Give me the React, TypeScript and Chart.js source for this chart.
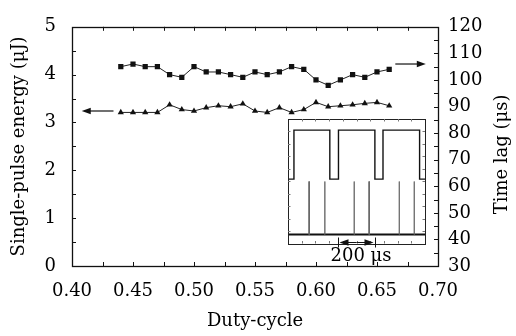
import { useEffect, useRef } from "react";
import { Chart, registerables } from "chart.js";

Chart.register(...registerables);

// ---------- main chart data ----------
const dutyCycle = [0.44, 0.45, 0.46, 0.47, 0.48, 0.49, 0.5, 0.51, 0.52, 0.53, 0.54, 0.55, 0.56, 0.57, 0.58, 0.59, 0.6, 0.61, 0.62, 0.63, 0.64, 0.65, 0.66];
const timeLag = [105, 106, 105, 105, 102, 101, 105, 103, 103, 102, 101, 103, 102, 103, 105, 104, 100, 98, 100, 102, 101, 103, 104];
const pulseEnergy = [3.21, 3.21, 3.21, 3.21, 3.37, 3.27, 3.24, 3.31, 3.35, 3.33, 3.39, 3.24, 3.21, 3.31, 3.21, 3.27, 3.42, 3.33, 3.35, 3.37, 3.4, 3.42, 3.35];

const xRange = [0.4, 0.7];
const xStep = 0.05;
const xMinorStep = 0.025;
const energyRange = [0, 5];
const energyStep = 1;
const energyMinorStep = 0.5;
const lagRange = [30, 120];
const lagStep = 10;
const lagMinorStep = 5;

const xTitle = "Duty-cycle";
const energyTitle = "Single-pulse energy (μJ)";
const lagTitle = "Time lag (μs)";

// arrows pointing to each series' axis (data coordinates)
const energyArrow = { y: 3.24, from: 0.434, to: 0.408 };
const lagArrow = { y: 106, from: 0.665, to: 0.69 };

// ---------- inset (oscilloscope trace) data ----------
const insetTimeRange = [0, 760]; // μs
const insetLevelRange = [0, 10];
const insetRiseTimes = [33, 280, 527];
const insetFallTimes = [232, 482, 730];
const insetSpikeTimes = [117, 204, 367, 450, 617, 700];
const insetHigh = 9.11;
const insetLow = 5.17;
const insetBase = 0.72;
const insetSpikeTop = 4.98;
const scaleBarStart = 280;
const scaleBarLength = 200;
const scaleBarLabel = "200 μs";

const FONT = "'DejaVu Serif', 'Liberation Serif', serif";
const INK = "#111";

function drawArrow(ctx: CanvasRenderingContext2D, x1: number, y1: number, x2: number, y2: number) {
  const ang = Math.atan2(y2 - y1, x2 - x1);
  const hl = 9;
  const hw = 3.2;
  ctx.beginPath();
  ctx.moveTo(x1, y1);
  ctx.lineTo(x2 - Math.cos(ang) * hl * 0.8, y2 - Math.sin(ang) * hl * 0.8);
  ctx.stroke();
  ctx.beginPath();
  ctx.moveTo(x2, y2);
  ctx.lineTo(x2 - Math.cos(ang) * hl - Math.sin(ang) * hw, y2 - Math.sin(ang) * hl + Math.cos(ang) * hw);
  ctx.lineTo(x2 - Math.cos(ang) * hl + Math.sin(ang) * hw, y2 - Math.sin(ang) * hl - Math.cos(ang) * hw);
  ctx.closePath();
  ctx.fill();
}

const mainDecor = {
  id: "mainDecor",
  afterDraw(chart: any) {
    const { ctx, chartArea: a, scales } = chart;
    const x = scales.x, y = scales.y, y1 = scales.y1;
    ctx.save();
    ctx.strokeStyle = INK;
    ctx.fillStyle = INK;
    ctx.lineWidth = 1.3;
    ctx.strokeRect(Math.round(a.left) + 0.5, Math.round(a.top) + 0.5, Math.round(a.right - a.left), Math.round(a.bottom - a.top));
    ctx.lineWidth = 1;
    const tl = 4;
    ctx.beginPath();
    const nx = Math.round((xRange[1] - xRange[0]) / xMinorStep);
    for (let i = 1; i < nx; i++) {
      const px = Math.round(x.getPixelForValue(xRange[0] + i * xMinorStep)) + 0.5;
      ctx.moveTo(px, a.bottom); ctx.lineTo(px, a.bottom - tl);
      ctx.moveTo(px, a.top); ctx.lineTo(px, a.top + tl);
    }
    const ny = Math.round((energyRange[1] - energyRange[0]) / energyMinorStep);
    for (let i = 1; i < ny; i++) {
      const py = Math.round(y.getPixelForValue(energyRange[0] + i * energyMinorStep)) + 0.5;
      ctx.moveTo(a.left, py); ctx.lineTo(a.left + tl, py);
    }
    const ny1 = Math.round((lagRange[1] - lagRange[0]) / lagMinorStep);
    for (let i = 1; i < ny1; i++) {
      const py = Math.round(y1.getPixelForValue(lagRange[0] + i * lagMinorStep)) + 0.5;
      ctx.moveTo(a.right, py); ctx.lineTo(a.right - tl, py);
    }
    ctx.stroke();

    ctx.lineWidth = 1.2;
    drawArrow(ctx, x.getPixelForValue(energyArrow.from), y.getPixelForValue(energyArrow.y), x.getPixelForValue(energyArrow.to), y.getPixelForValue(energyArrow.y));
    drawArrow(ctx, x.getPixelForValue(lagArrow.from), y1.getPixelForValue(lagArrow.y), x.getPixelForValue(lagArrow.to), y1.getPixelForValue(lagArrow.y));

    // right axis title, reading bottom-to-top
    ctx.font = `18px ${FONT}`;
    ctx.fillStyle = "#000";
    ctx.textAlign = "center";
    ctx.textBaseline = "middle";
    ctx.translate(y1.right - 14, (a.top + a.bottom) / 2 + 8);
    ctx.rotate(-Math.PI / 2);
    ctx.fillText(lagTitle, 0, 0);
    ctx.restore();
  },
};

const insetDecor = {
  id: "insetDecor",
  afterDraw(chart: any) {
    const { ctx, chartArea: a, scales } = chart;
    const x = scales.x;
    ctx.save();
    ctx.strokeStyle = "#222";
    ctx.fillStyle = "#222";
    ctx.lineWidth = 1;
    ctx.strokeRect(Math.round(a.left) + 0.5, Math.round(a.top) + 0.5, Math.round(a.right - a.left), Math.round(a.bottom - a.top));
    ctx.strokeStyle = "#777";
    ctx.beginPath();
    for (let i = 1; i < 10; i++) {
      const px = Math.round(a.left + ((a.right - a.left) * i) / 10) + 0.5;
      ctx.moveTo(px, a.bottom); ctx.lineTo(px, a.bottom - 2.5);
      ctx.moveTo(px, a.top); ctx.lineTo(px, a.top + 2.5);
      const py = Math.round(a.top + ((a.bottom - a.top) * i) / 10) + 0.5;
      ctx.moveTo(a.left, py); ctx.lineTo(a.left + 2.5, py);
      ctx.moveTo(a.right, py); ctx.lineTo(a.right - 2.5, py);
    }
    ctx.stroke();
    // scale bar
    ctx.strokeStyle = "#111";
    ctx.fillStyle = "#111";
    const bx1 = x.getPixelForValue(scaleBarStart);
    const bx2 = x.getPixelForValue(scaleBarStart + scaleBarLength);
    const by = Math.round(a.bottom) - 1.5;
    ctx.lineWidth = 1;
    ctx.beginPath();
    ctx.moveTo(Math.round(bx1) + 0.5, by - 5); ctx.lineTo(Math.round(bx1) + 0.5, by + 5);
    ctx.moveTo(Math.round(bx2) + 0.5, by - 5); ctx.lineTo(Math.round(bx2) + 0.5, by + 5);
    ctx.stroke();
    const mid = (bx1 + bx2) / 2;
    drawArrow(ctx, mid, by, bx1 + 1, by);
    drawArrow(ctx, mid, by, bx2 - 1, by);
    ctx.font = `18px ${FONT}`;
    ctx.fillStyle = "#000";
    ctx.textAlign = "left";
    ctx.textBaseline = "alphabetic";
    ctx.fillText(scaleBarLabel, bx1 - 8, a.bottom + 17);
    ctx.restore();
  },
};

export default function App() {
  const mainRef = useRef<HTMLCanvasElement>(null);
  const insetRef = useRef<HTMLCanvasElement>(null);

  useEffect(() => {
    const tickFont = { family: FONT, size: 18 };
    const noGrid = { display: false, drawTicks: false };
    const main = new Chart(mainRef.current!, {
      type: "line",
      data: {
        datasets: [
          {
            label: "Time lag",
            data: dutyCycle.map((d, i) => ({ x: d, y: timeLag[i] })),
            yAxisID: "y1",
            borderColor: "#222",
            backgroundColor: "#111",
            borderWidth: 1,
            pointStyle: "rect",
            pointRadius: 3.7,
            pointBorderWidth: 0,
            tension: 0,
          },
          {
            label: "Single-pulse energy",
            data: dutyCycle.map((d, i) => ({ x: d, y: pulseEnergy[i] })),
            yAxisID: "y",
            borderColor: "#222",
            backgroundColor: "#111",
            borderWidth: 1,
            pointStyle: "triangle",
            pointRadius: 3.6,
            pointBorderWidth: 0,
            tension: 0,
          },
        ],
      },
      options: {
        animation: false,
        responsive: false,
        events: [],
        layout: { padding: { top: 16, left: 0, right: 0, bottom: 0 } },
        plugins: { legend: { display: false }, tooltip: { enabled: false } },
        scales: {
          x: {
            type: "linear",
            min: xRange[0],
            max: xRange[1],
            grid: noGrid,
            border: { display: false },
            afterFit: (s: any) => { s.height = 70; },
            afterBuildTicks: (s: any) => {
              const t = [];
              for (let v = xRange[0]; v <= xRange[1] + 1e-9; v += xStep) t.push({ value: +v.toFixed(3) });
              s.ticks = t;
            },
            ticks: { font: tickFont, color: "#000", padding: 15, maxRotation: 0, autoSkip: false, callback: (v: any) => Number(v).toFixed(2) },
            title: { display: true, text: xTitle, font: tickFont, color: "#000", padding: { top: 0, bottom: 4 } },
          },
          y: {
            type: "linear",
            position: "left",
            min: energyRange[0],
            max: energyRange[1],
            grid: noGrid,
            border: { display: false },
            afterFit: (s: any) => { s.width = 72; },
            ticks: { stepSize: energyStep, font: tickFont, color: "#000", padding: 16 },
            title: { display: true, text: energyTitle, font: tickFont, color: "#000", padding: { top: 9, bottom: 0 } },
          },
          y1: {
            type: "linear",
            position: "right",
            min: lagRange[0],
            max: lagRange[1],
            grid: noGrid,
            border: { display: false },
            afterFit: (s: any) => { s.width = 78; },
            ticks: { stepSize: lagStep, font: tickFont, color: "#000", padding: 10 },
          },
        },
      },
      plugins: [mainDecor],
    } as any);

    const square: { x: number; y: number }[] = [{ x: insetTimeRange[0], y: insetLow }];
    insetRiseTimes.forEach((r, i) => {
      square.push({ x: r, y: insetLow }, { x: r, y: insetHigh }, { x: insetFallTimes[i], y: insetHigh }, { x: insetFallTimes[i], y: insetLow });
    });
    square.push({ x: insetTimeRange[1], y: insetLow });
    const spikes: { x: number; y: number | null }[] = [];
    insetSpikeTimes.forEach((t) => {
      spikes.push({ x: t - 0.8, y: insetBase }, { x: t, y: insetSpikeTop }, { x: t + 0.8, y: insetBase }, { x: t + 1.5, y: null });
    });
    const baseline = [{ x: insetTimeRange[0], y: insetBase }, { x: insetTimeRange[1], y: insetBase }];

    const inset = new Chart(insetRef.current!, {
      type: "line",
      data: {
        datasets: [
          { data: spikes, borderColor: "#666", borderWidth: 0.9, pointRadius: 0, spanGaps: false },
          { data: baseline, borderColor: "#111", borderWidth: 2, pointRadius: 0 },
          { data: square, borderColor: "#111", borderWidth: 1.4, pointRadius: 0 },
        ],
      },
      options: {
        animation: false,
        responsive: false,
        events: [],
        layout: { padding: { left: 2, top: 2, right: 5, bottom: 23.5 } },
        plugins: { legend: { display: false }, tooltip: { enabled: false } },
        scales: {
          x: { type: "linear", display: false, min: insetTimeRange[0], max: insetTimeRange[1] },
          y: { type: "linear", display: false, min: insetLevelRange[0], max: insetLevelRange[1] },
        },
      },
      plugins: [insetDecor],
    } as any);

    return () => {
      main.destroy();
      inset.destroy();
    };
  }, []);

  return (
    <div style={{ position: "fixed", left: 0, top: 0, width: 516, height: 336, background: "#fff" }}>
      <canvas ref={mainRef} width={516} height={336} style={{ position: "absolute", left: 0, top: 0, width: 516, height: 336 }} />
      <canvas ref={insetRef} width={144} height={150} style={{ position: "absolute", left: 286, top: 117, width: 144, height: 150 }} />
    </div>
  );
}
